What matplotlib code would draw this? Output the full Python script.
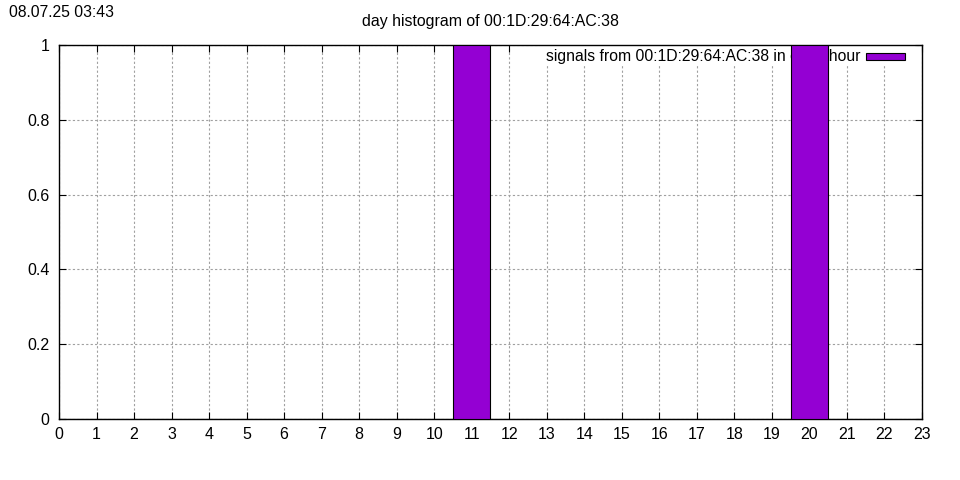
import matplotlib.pyplot as plt
from matplotlib.patches import Rectangle

plt.rcParams['font.family'] = ['Liberation Sans', 'DejaVu Sans']

# signals per hour of the day
hours = list(range(24))
counts = [0, 0, 0, 0, 0, 0, 0, 0, 0, 0, 0, 1,
          0, 0, 0, 0, 0, 0, 0, 0, 1, 0, 0, 0]
title = "day histogram of 00:1D:29:64:AC:38"
stamp = "08.07.25 03:43"
label = "signals from 00:1D:29:64:AC:38 in each hour"
bar_color = '#9400D3'

W, H = 960, 480
fs = 11.3
fig = plt.figure(figsize=(9.6, 4.8), dpi=100)
ax = fig.add_axes([59/W, 1 - 419/H, (922 - 59)/W, (419 - 45)/H])

ax.set_axisbelow(True)
ax.bar(hours, counts, width=1.0, color=bar_color, edgecolor='black',
       linewidth=0.8, zorder=3)

ax.set_xlim(0, 23)
ax.set_ylim(0, 1)
ax.set_xticks(range(24))
ax.set_yticks([0, 0.2, 0.4, 0.6, 0.8, 1])
ax.set_yticklabels(["0", "0.2", "0.4", "0.6", "0.8", "1"])
ax.tick_params(direction='in', length=5, width=0.8, top=True, right=True,
               labelsize=11.5)
ax.tick_params(axis='x', pad=5.5)
ax.tick_params(axis='y', pad=7)
ax.grid(True, color='#a0a0a0', linestyle=(0, (2, 2)), linewidth=0.8)
for s in ax.spines.values():
    s.set_linewidth(1.0)

# key drawn gnuplot style: white box under the bars
ax.add_patch(Rectangle((540/W, 1 - 66/H), (915 - 540)/W, 20/H,
                       transform=fig.transFigure, facecolor='white',
                       edgecolor='none', zorder=2))
ax.text(860/W, 1 - 56/H, label, transform=fig.transFigure, ha='right',
        va='center', fontsize=fs, zorder=2.5)
ax.add_patch(Rectangle((866/W, 1 - 60/H), (905 - 866)/W, 7/H,
                       transform=fig.transFigure, facecolor=bar_color,
                       edgecolor='black', linewidth=0.8, zorder=4))

fig.text(490/W, 1 - 21.5/H, title, ha='center', va='center', fontsize=11.4)
fig.text(9/W, 1 - 12.5/H, stamp, ha='left', va='center', fontsize=fs)

fig.savefig('out.png', dpi=100)
